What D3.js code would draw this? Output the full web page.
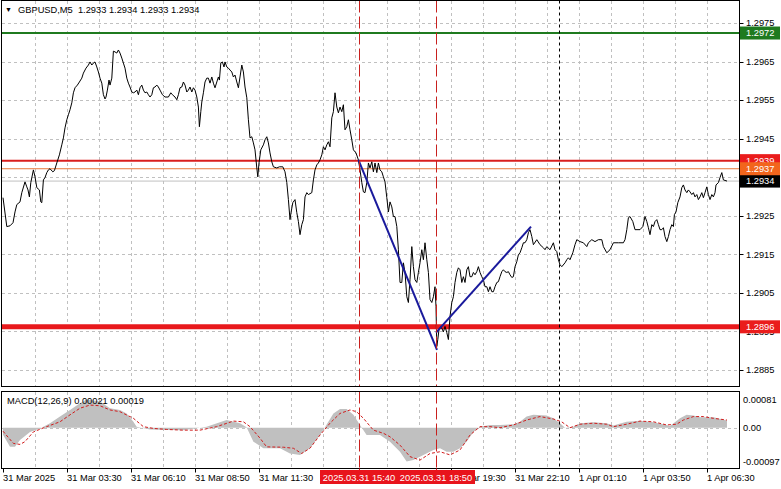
<!DOCTYPE html>
<html><head><meta charset="utf-8">
<script src="https://cdn.jsdelivr.net/npm/d3@7"></script>
<style>
body{margin:0;background:#fff;}
svg{display:block;}
text{font-family:"Liberation Sans",Arial,sans-serif;font-size:9.3px;fill:#000;}
</style>
</head><body>
<svg id="c" width="781" height="489"></svg>
<script>
// ---------- DATA ----------
const symbolTitle = "GBPUSD,M5  1.2933 1.2934 1.2933 1.2934";
const macdTitle = "MACD(12,26,9) 0.00021 0.00019";

// price line: [bar index (5-min bars from 31 Mar 00:00 on the chart), close]
const priceSeries = [
[0,1.29297],[1.9,1.29222],[3.5,1.29224],[5,1.29232],[6,1.29260],[6.9,1.29279],[8.5,1.29286],[9.4,1.29310],
[11,1.29338],[11.9,1.29325],[12.5,1.29317],[13.2,1.29299],[13.9,1.29336],[15.2,1.29369],[16,1.29351],[16.9,1.29323],
[18.2,1.29317],[18.9,1.29286],[19.4,1.29284],[20.2,1.29343],[21,1.29349],[21.9,1.29362],[22.7,1.29369],[23.5,1.29372],
[24.9,1.29364],[25.7,1.29367],[26.9,1.29387],[28.2,1.29408],[29.4,1.29434],[30.2,1.29452],[31,1.29478],[31.9,1.29499],
[32.7,1.29512],[33.5,1.29525],[34.4,1.29543],[35.2,1.29569],[36,1.29582],[37.2,1.29589],[38.2,1.29597],[39.4,1.29607],
[40.2,1.29620],[41.5,1.29633],[42.7,1.29641],[43.5,1.29649],[44.4,1.29641],[45.2,1.29646],[46,1.29649],[46.9,1.29636],
[47.7,1.29623],[48.5,1.29607],[49.4,1.29594],[50.2,1.29564],[51,1.29553],[51.5,1.29558],[52.2,1.29576],[53,1.29602],
[53.5,1.29589],[54.4,1.29607],[55.2,1.29677],[56,1.29675],[56.9,1.29672],[57.7,1.29680],[58.5,1.29672],[59.4,1.29659],
[60.2,1.29646],[61,1.29633],[61.9,1.29607],[62.7,1.29594],[63.5,1.29584],[64.4,1.29571],[65.2,1.29569],[66,1.29571],
[66.9,1.29576],[67.7,1.29564],[68.5,1.29582],[69.4,1.29589],[70.2,1.29576],[71,1.29569],[71.9,1.29571],[72.7,1.29564],
[73.5,1.29558],[74.4,1.29564],[75.2,1.29582],[76,1.29584],[76.9,1.29589],[77.7,1.29584],[78.5,1.29576],[79.7,1.29564],
[81,1.29558],[82.7,1.29558],[83.9,1.29569],[84.7,1.29564],[86,1.29558],[86.9,1.29551],[87.7,1.29564],[88.5,1.29582],
[89.4,1.29584],[90.2,1.29597],[91,1.29589],[91.9,1.29571],[92.7,1.29576],[93.5,1.29584],[94.4,1.29571],[95.2,1.29582],
[96,1.29576],[96.9,1.29558],[97.7,1.29532],[98.2,1.29481],[98.9,1.29520],[99.4,1.29545],[100.2,1.29569],[101,1.29597],
[101.9,1.29607],[102.7,1.29607],[103.5,1.29594],[104.4,1.29610],[105.2,1.29594],[106,1.29582],[106.9,1.29597],[107.7,1.29610],
[108.2,1.29602],[108.9,1.29646],[109.7,1.29649],[110.5,1.29636],[111,1.29649],[111.9,1.29636],[112.7,1.29633],[113.5,1.29628],
[114.4,1.29623],[115.2,1.29610],[116,1.29615],[116.9,1.29597],[117.7,1.29582],[118.5,1.29610],[119.4,1.29641],[120.2,1.29623],
[121,1.29584],[121.9,1.29556],[122.7,1.29499],[123.5,1.29452],[124.4,1.29455],[125.2,1.29439],[126,1.29421],[126.9,1.29374],
[127.4,1.29351],[128,1.29387],[128.9,1.29421],[130.2,1.29434],[131,1.29447],[131.9,1.29455],[132.7,1.29439],[133.5,1.29413],
[134.4,1.29390],[135.2,1.29377],[136.9,1.29374],[138.2,1.29377],[139.9,1.29377],[141,1.29364],[141.9,1.29336],[142.7,1.29292],
[143.5,1.29240],[144,1.29258],[144.9,1.29284],[146,1.29292],[146.9,1.29258],[147.7,1.29235],[148.5,1.29201],[149.4,1.29227],
[150.2,1.29240],[151,1.29299],[151.9,1.29310],[152.7,1.29305],[154.4,1.29310],[155.2,1.29343],[156,1.29369],[156.9,1.29382],
[157.7,1.29387],[158.5,1.29395],[159.4,1.29408],[160.2,1.29429],[161,1.29421],[161.9,1.29434],[162.7,1.29442],[163.5,1.29429],
[164.4,1.29504],[165.2,1.29520],[166,1.29569],[166.9,1.29532],[167.7,1.29517],[168.5,1.29532],[169.4,1.29520],[170.2,1.29538],
[171,1.29473],[171.9,1.29481],[172.7,1.29499],[173.5,1.29473],[174.4,1.29447],[175.2,1.29421],[176.5,1.29413],[177.7,1.29395],
[178.5,1.29369],[179.4,1.29336],[180.2,1.29312],[181,1.29310],[181.9,1.29336],[182.7,1.29387],[183.5,1.29374],[184.4,1.29390],
[185.2,1.29364],[186,1.29387],[186.9,1.29362],[187.7,1.29387],[188.5,1.29369],[189.4,1.29364],[190.2,1.29351],[191,1.29338],
[191.9,1.29297],[192.7,1.29260],[193.5,1.29286],[194.4,1.29273],[195.2,1.29248],[196,1.29248],[196.9,1.29222],[197.7,1.29162],
[198.5,1.29077],[199.4,1.29077],[200.2,1.29128],[201,1.29103],[201.9,1.29040],[202.7,1.29025],[203.5,1.29084],[204.4,1.29170],
[205.2,1.29118],[206,1.29084],[206.9,1.29077],[207.7,1.29103],[208.5,1.29128],[209.4,1.29162],[210.2,1.29136],[211,1.29180],
[211.9,1.29136],[212.7,1.29103],[213.5,1.29033],[214.4,1.29025],[215.2,1.29040],[216,1.29066],[216.5,1.29014],[216.9,1.28911],
[217.4,1.28929],[218,1.28955],[219,1.28963],[220.2,1.28949],[221,1.28963],[221.9,1.28947],[222.7,1.28929],[223.5,1.28989],
[224.4,1.29025],[225.2,1.29040],[226,1.29077],[226.9,1.29103],[227.7,1.29115],[228.5,1.29110],[229.4,1.29077],[230.2,1.29092],
[231,1.29077],[231.9,1.29110],[232.7,1.29118],[233.5,1.29092],[234.4,1.29092],[235.2,1.29103],[236,1.29097],[236.9,1.29105],
[237.7,1.29118],[238.5,1.29103],[239.4,1.29092],[240.2,1.29084],[241,1.29066],[241.9,1.29066],[242.7,1.29053],[243.5,1.29066],
[244.4,1.29053],[245.2,1.29053],[246,1.29066],[246.9,1.29077],[247.7,1.29079],[248.5,1.29092],[249.4,1.29105],[250.2,1.29110],
[251,1.29105],[251.9,1.29103],[252.7,1.29105],[253.5,1.29097],[254.4,1.29090],[255.2,1.29092],[256,1.29118],[256.9,1.29131],
[257.7,1.29149],[258.5,1.29154],[259.4,1.29167],[260.2,1.29180],[261,1.29180],[261.9,1.29188],[262.7,1.29206],[263.5,1.29214],
[264.4,1.29196],[265.2,1.29175],[266.9,1.29188],[268.5,1.29175],[270.2,1.29167],[271,1.29162],[271.9,1.29170],[273.5,1.29162],
[275.2,1.29180],[276,1.29162],[276.9,1.29157],[277.7,1.29136],[278.5,1.29123],[279.4,1.29118],[281,1.29128],[281.9,1.29136],
[282.7,1.29141],[283.5,1.29136],[284.9,1.29154],[286,1.29175],[286.9,1.29188],[288.5,1.29183],[290.2,1.29180],[291.9,1.29170],
[292.7,1.29180],[294.4,1.29188],[296,1.29183],[297.7,1.29188],[299.4,1.29188],[300.2,1.29170],[301.9,1.29154],[303.5,1.29162],
[305.2,1.29180],[307.7,1.29180],[310.2,1.29180],[311,1.29188],[311.9,1.29214],[312.7,1.29245],[313.5,1.29248],[314.9,1.29235],
[316,1.29214],[318.5,1.29214],[319.9,1.29222],[321,1.29248],[321.9,1.29235],[322.7,1.29219],[323.5,1.29201],[324.4,1.29227],
[325.2,1.29222],[326,1.29235],[326.9,1.29240],[327.7,1.29227],[328.5,1.29214],[329.4,1.29214],[330.2,1.29219],[331,1.29196],
[331.9,1.29183],[332.7,1.29196],[333.5,1.29214],[334.4,1.29227],[335.2,1.29222],[335.7,1.29253],[336.5,1.29260],[337.4,1.29284],
[338.5,1.29299],[339.4,1.29323],[340.2,1.29330],[341,1.29317],[341.9,1.29310],[342.7,1.29317],[343.5,1.29312],[344.4,1.29305],
[345.2,1.29310],[346,1.29299],[346.9,1.29305],[347.7,1.29292],[348.5,1.29299],[349.4,1.29310],[350.2,1.29297],[351,1.29310],
[351.9,1.29325],[352.7,1.29305],[353.5,1.29292],[354.4,1.29305],[355.2,1.29299],[356,1.29310],[356.5,1.29330],[357.7,1.29336],
[358.5,1.29349],[359.4,1.29362],[360.2,1.29343],[362,1.29340]
];

// MACD main (histogram) and signal: [bar index, value]
const macdMain = [
[0,-0.00020],[3.5,-0.00055],[6,-0.00055],[8.5,-0.00035],[13.5,-0.00012],[18.5,-0.00002],[23.5,0.00013],[28.5,0.00032],
[33.5,0.00051],[38.5,0.00070],[41.8,0.00081],[48.5,0.00075],[53.5,0.00056],[58.5,0.00051],[61.8,0.00041],[65.2,0.00017],
[66.8,0.00003],[73.5,-0.00005],[90,-0.00007],[101.8,0.00003],[111.8,0.00022],[118.5,0.00013],[121.8,0.00001],[125.2,-0.00040],
[130.2,-0.00059],[138.5,-0.00059],[143.5,-0.00074],[148.5,-0.00078],[153.5,-0.00059],[158.5,-0.00021],[161,0.00001],[165.2,0.00041],
[168.5,0.00054],[171.8,0.00054],[175.2,0.00037],[178.5,0.00008],[181.8,-0.00021],[188.5,-0.00021],[193.5,-0.00040],[198.5,-0.00069],
[201.8,-0.00097],[205.2,-0.00093],[210.2,-0.00078],[215.2,-0.00064],[218.5,-0.00059],[221.8,-0.00069],[225.2,-0.00069],[228.5,-0.00059],
[231.8,-0.00040],[235.2,-0.00012],[238.5,0.00003],[243.5,0.00008],[248.5,0.00008],[255.2,0.00010],[258.5,0.00017],[261.8,0.00032],
[265.2,0.00037],[271.8,0.00035],[275.2,0.00027],[278.5,0.00013],[281,0.00000],[285.2,0.00003],[288.5,0.00013],[295.2,0.00016],
[301.8,0.00013],[305.2,0.00006],[311.8,0.00017],[318.5,0.00020],[325.2,0.00016],[330.2,0.00010],[333.5,0.00005],[338.5,0.00027],
[341.8,0.00037],[345.2,0.00035],[348.5,0.00030],[355.2,0.00030],[362,0.00021]
];
const macdSignal = [
[0,-0.00010],[5.2,-0.00045],[8.5,-0.00048],[11,-0.00040],[15.2,-0.00012],[21.8,0.00003],[28.5,0.00017],[33.5,0.00037],
[38.5,0.00056],[43.5,0.00065],[48.5,0.00063],[53.5,0.00051],[58.5,0.00046],[65.2,0.00027],[70.2,0.00003],[75.2,-0.00002],
[81.8,-0.00005],[90.2,-0.00007],[98.5,-0.00007],[106.8,0.00003],[115.2,0.00019],[120.2,0.00017],[123.5,0.00003],[128.5,-0.00030],
[131.8,-0.00055],[140.2,-0.00056],[145.2,-0.00059],[149.3,-0.00074],[153.5,-0.00059],[158.5,-0.00021],[163.5,0.00013],[168.5,0.00041],
[173.5,0.00051],[176.8,0.00046],[180.2,0.00027],[185.2,-0.00007],[190.2,-0.00016],[193.5,-0.00026],[198.5,-0.00050],[203.5,-0.00083],
[208.5,-0.00093],[213.5,-0.00074],[218.5,-0.00069],[223.5,-0.00078],[228.5,-0.00064],[233.5,-0.00021],[238.5,0.00003],[243.5,0.00003],
[248.5,0.00000],[255.2,0.00008],[261.8,0.00022],[268.5,0.00032],[275.2,0.00025],[279.3,0.00017],[283.5,0.00000],[288.5,0.00010],
[295.2,0.00013],[301.8,0.00010],[305.2,0.00003],[311.8,0.00010],[318.5,0.00019],[325.2,0.00017],[331.8,0.00008],[336.8,0.00010],
[340.2,0.00022],[345.2,0.00032],[350.2,0.00032],[355.2,0.00027],[362,0.00022]
];

const priceGrid = [1.2975,1.2965,1.2955,1.2945,1.2935,1.2925,1.2915,1.2905,1.2895,1.2885];
const priceTickLabels = [1.2975,1.2965,1.2955,1.2945,1.2925,1.2915,1.2905,1.2895,1.2885];
const macdTicks = [0.00081, 0, -0.00097];
const macdTickLabels = ["0.00081","0.00","-0.00097"];
const timeTickBars = [0,32,64,96,128,224,256,288,320,352];
const timeTickLabels = ["31 Mar 2025","31 Mar 03:30","31 Mar 06:10","31 Mar 08:50","31 Mar 11:30",
  "31 Mar 19:30","31 Mar 22:10","1 Apr 01:10","1 Apr 03:50","1 Apr 06:30"];

// horizontal levels
const levelPrices = [1.29724, 1.29393, 1.29372, 1.29340, 1.28962];
const levelColors = ["#1f7a1f","#d91e1e","#e8783a","#c0c0c0","#e8191c"];
const levelBoxColors = ["#1f7a1f","#ea1c1c","#f2651c","#000000","#ea1c1c"];
const levelWidths = [2,2,1,1,5];
const levelBoxOrder = [0,3,1,2,4];

// vertical markers
const markerBars = [178, 216.5];
const markerLabels = ["2025.03.31 15:40","2025.03.31 18:50"];
const daySeparatorBars = [278];

// trend lines (blue)
const trendA = [[177.7,1.29395],[217,1.28902]];
const trendB = [[216.5,1.28947],[264,1.29222]];

// ---------- LAYOUT ----------
const svg = d3.select("#c");
const L = 1.5, R = 739.5, T = 0.5, MB = 386.5, MT = 391.5, BB = 468.5;
const x = d3.scaleLinear().domain([0, 368]).range([3, 739]);
const y = d3.scaleLinear().domain([1.2885, 1.2975]).range([370, 23]);
const ym = d3.scaleLinear().domain([-0.00097, 0.00081]).range([461.5, 399.5]);

svg.append("rect").attr("width",781).attr("height",489).attr("fill","#fff");
const defs = svg.append("defs");
defs.append("clipPath").attr("id","cm").append("rect").attr("x",L).attr("y",T).attr("width",R-L).attr("height",MB-T);
defs.append("clipPath").attr("id","cd").append("rect").attr("x",L).attr("y",MT).attr("width",R-L).attr("height",BB-MT);

const main = svg.append("g").attr("clip-path","url(#cm)");
const macd = svg.append("g").attr("clip-path","url(#cd)");
const gridBars = d3.range(16, 368, 16);
const gridStyle = s => s.attr("stroke","#c0c0c0").attr("stroke-width",1).attr("stroke-dasharray","3,3").attr("shape-rendering","crispEdges");

// grid main
main.selectAll(".vg").data(gridBars).join("line").attr("class","vg")
  .attr("x1",d=>Math.round(x(d))+0.5).attr("x2",d=>Math.round(x(d))+0.5).attr("y1",T).attr("y2",MB).call(gridStyle);
main.selectAll(".hg").data(priceGrid).join("line").attr("class","hg")
  .attr("x1",L).attr("x2",R).attr("y1",d=>Math.round(y(d))+0.5).attr("y2",d=>Math.round(y(d))+0.5).call(gridStyle);
// grid macd
macd.selectAll(".vg").data(gridBars).join("line").attr("class","vg")
  .attr("x1",d=>Math.round(x(d))+0.5).attr("x2",d=>Math.round(x(d))+0.5).attr("y1",MT).attr("y2",BB).call(gridStyle);
macd.append("line").attr("x1",L).attr("x2",R).attr("y1",Math.round(ym(0))+0.5).attr("y2",Math.round(ym(0))+0.5).call(gridStyle);

// horizontal levels
main.selectAll(".lvl").data(levelPrices).join("line").attr("class","lvl")
  .attr("x1",L).attr("x2",R).attr("y1",d=>y(d)).attr("y2",d=>y(d))
  .attr("stroke",(d,i)=>levelColors[i]).attr("stroke-width",(d,i)=>levelWidths[i]);

// price line
main.append("path").datum(priceSeries)
  .attr("d", d3.line().x(d=>x(d[0])).y(d=>y(d[1])))
  .attr("fill","none").attr("stroke","#000").attr("stroke-width",1);

// trend lines
[trendA, trendB].forEach(t => {
  main.append("path").datum(t).attr("d", d3.line().x(d=>x(d[0])).y(d=>y(d[1])))
    .attr("fill","none").attr("stroke","#1a1a9c").attr("stroke-width",2);
});

// MACD histogram + signal
macd.append("path").datum(macdMain)
  .attr("d", d3.area().x(d=>x(d[0])).y0(ym(0)).y1(d=>ym(d[1])))
  .attr("fill","#c0c0c0");
macd.append("path").datum(macdSignal)
  .attr("d", d3.line().x(d=>x(d[0])).y(d=>ym(d[1])))
  .attr("fill","none").attr("stroke","#d01c1c").attr("stroke-width",1).attr("stroke-dasharray","3,2");

// vertical markers
[[main,T,MB],[macd,MT,BB]].forEach(([g,a,b]) => {
  g.selectAll(".mk").data(markerBars).join("line").attr("class","mk")
    .attr("x1",d=>Math.round(x(d))+0.5).attr("x2",d=>Math.round(x(d))+0.5).attr("y1",a).attr("y2",b)
    .attr("stroke","#c8201e").attr("stroke-width",1).attr("stroke-dasharray","12,4");
  g.selectAll(".ds").data(daySeparatorBars).join("line").attr("class","ds")
    .attr("x1",d=>Math.round(x(d))+0.5).attr("x2",d=>Math.round(x(d))+0.5).attr("y1",a).attr("y2",b)
    .attr("stroke","#000").attr("stroke-width",1).attr("stroke-dasharray","3,3");
});

// borders
const border = svg.append("g").attr("fill","none").attr("stroke","#000").attr("stroke-width",1).attr("shape-rendering","crispEdges");
border.append("rect").attr("x",L).attr("y",T).attr("width",R-L).attr("height",MB-T);
border.append("rect").attr("x",L).attr("y",MT).attr("width",R-L).attr("height",BB-MT);

// price axis labels
const pa = svg.append("g");
pa.selectAll("line").data(priceTickLabels).join("line")
  .attr("x1",R).attr("x2",R+4).attr("y1",d=>Math.round(y(d))+0.5).attr("y2",d=>Math.round(y(d))+0.5).attr("stroke","#000");
pa.selectAll("text").data(priceTickLabels).join("text")
  .attr("x",746).attr("y",d=>y(d)).attr("dy","0.35em").text(d=>d.toFixed(4));

// level boxes
levelBoxOrder.forEach(i => {
  const yy = y(levelPrices[i]);
  svg.append("rect").attr("x",740).attr("y",yy-6.5).attr("width",40).attr("height",13).attr("fill",levelBoxColors[i]);
  svg.append("text").attr("x",746).attr("y",yy).attr("dy","0.35em").style("fill","#fff").text(levelPrices[i].toFixed(4));
});

// macd axis labels
svg.selectAll(".mt").data(macdTicks).join("text").attr("class","mt")
  .attr("x",743).attr("y",d=>ym(d)).attr("dy","0.35em").text((d,i)=>macdTickLabels[i]);

// time axis
const ta = svg.append("g");
ta.selectAll("line").data(timeTickBars).join("line")
  .attr("x1",d=>Math.round(x(d))+0.5).attr("x2",d=>Math.round(x(d))+0.5).attr("y1",BB).attr("y2",BB+4).attr("stroke","#000");
ta.selectAll("text").data(timeTickBars).join("text")
  .attr("x",d=>x(d)).attr("y",481).text((d,i)=>timeTickLabels[i]);
markerBars.forEach((b,i) => {
  const cx = x(b);
  svg.append("rect").attr("x",cx-39).attr("y",470).attr("width",78).attr("height",14).attr("fill","#e8141c");
  svg.append("line").attr("x1",Math.round(cx)+0.5).attr("x2",Math.round(cx)+0.5).attr("y1",BB).attr("y2",BB+4).attr("stroke","#e8141c");
  svg.append("text").attr("x",cx).attr("y",481).attr("text-anchor","middle").style("fill","#fff").text(markerLabels[i]);
});

// titles
svg.append("text").attr("x",5).attr("y",12).style("font-size","7px").text("▼");
svg.append("text").attr("x",18).attr("y",13).attr("xml:space","preserve").style("white-space","pre").text(symbolTitle);
svg.append("text").attr("x",7).attr("y",404).text(macdTitle);
</script>
</body></html>
